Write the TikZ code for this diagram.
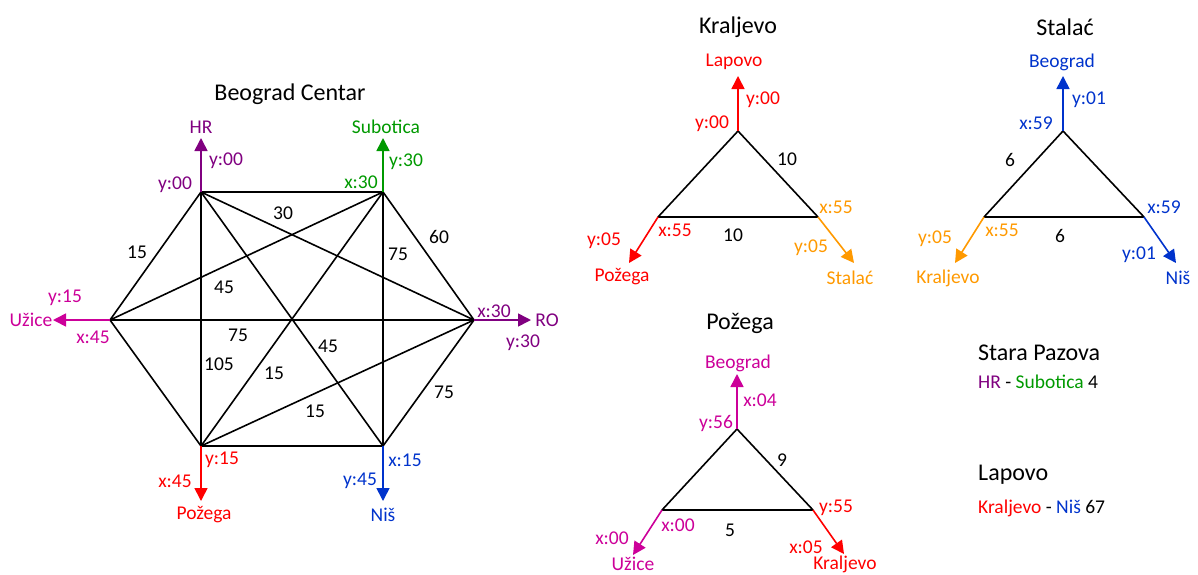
\documentclass[tikz,border=0pt]{standalone}
\usepackage{fontspec}
\setmainfont{Carlito}
\usetikzlibrary{arrows.meta}
\definecolor{cpurple}{HTML}{800080}
\definecolor{cmag}{HTML}{CC0099}
\definecolor{cgreen}{HTML}{009900}
\definecolor{cred}{HTML}{FF0000}
\definecolor{cblue}{HTML}{0033CC}
\definecolor{corange}{HTML}{FF9900}
\begin{document}
\begin{tikzpicture}[x=1pt,y=-1pt,
  edge/.style={line width=1.6pt, black, line join=round},
  exit/.style={line width=1.6pt, -{Triangle[length=13pt,width=13pt]}},
  lbl/.style={font=\fontsize{19.5}{21}\selectfont, inner sep=0pt},
  ttl/.style={font=\fontsize{24}{26}\selectfont, inner sep=0pt},
]
\useasboundingbox (0,0) rectangle (1198,574);

% ---------------- Beograd Centar ----------------
\node[ttl] (tbc) at (290,94) {Beograd Centar};
\coordinate (hr)  at (201,192);
\coordinate (sub) at (383,192);
\coordinate (ro)  at (474,320);
\coordinate (nis) at (383,446);
\coordinate (pož) at (201,446);
\coordinate (uz)  at (110,320);

\draw[edge] (hr) -- (sub) -- (ro) -- (nis) -- (pož) -- (uz) -- cycle;
\draw[edge] (hr) -- (pož);
\draw[edge] (sub) -- (nis);
\draw[edge] (uz) -- (ro);
\draw[edge] (hr) -- (ro);
\draw[edge] (hr) -- (nis);
\draw[edge] (sub) -- (uz);
\draw[edge] (sub) -- (pož);
\draw[edge] (pož) -- (ro);

\node[lbl] (w1) at (283,213) {30};
\node[lbl] (w2) at (137,252) {15};
\node[lbl] (w3) at (439,237) {60};
\node[lbl] (w4) at (398,254) {75};
\node[lbl] (w5) at (224,287) {45};
\node[lbl] (w6) at (238,335) {75};
\node[lbl] (w7) at (219,364) {105};
\node[lbl] (w8) at (328,346) {45};
\node[lbl] (w9) at (274,373) {15};
\node[lbl] (w10) at (315,411) {15};
\node[lbl] (w11) at (444,392) {75};

% exits
\coordinate (hrE)  at (201,138);
\coordinate (subE) at (383,138);
\coordinate (roE)  at (531,320);
\coordinate (uzE)  at (53,320);
\coordinate (požE) at (201,501);
\coordinate (nisE) at (383,501);

\draw[exit, cpurple] (hr) -- (hrE);
\draw[exit, cgreen] (sub) -- (subE);
\draw[exit, cpurple] (ro) -- (roE);
\draw[exit, cmag] (uz) -- (uzE);
\draw[exit, cred] (pož) -- (požE);
\draw[exit, cblue] (nis) -- (nisE);

\node[lbl, cpurple] (nhr) at (201,127) {HR};
\node[lbl, cpurple] (a1) at (226,161) {y:00};
\node[lbl, cpurple] (a2) at (175,185) {y:00};

\node[lbl, cgreen] (nsub) at (386,127) {Subotica};
\node[lbl, cgreen] (a3) at (406,162) {y:30};
\node[lbl, cgreen] (a4) at (361,182) {x:30};

\node[lbl, cpurple] (nro) at (547,320) {RO};
\node[lbl, cpurple] (a5) at (494,311) {x:30};
\node[lbl, cpurple] (a6) at (523,343) {y:30};

\node[lbl, cmag] (nuz) at (31,320) {Užice};
\node[lbl, cmag] (a7) at (65,298) {y:15};
\node[lbl, cmag] (a8) at (93,337) {x:45};

\node[lbl, cred] (npož) at (204,515) {Požega};
\node[lbl, cred] (a9) at (222,460) {y:15};
\node[lbl, cred] (a10) at (175,481) {x:45};

\node[lbl, cblue] (nnis) at (383,515) {Niš};
\node[lbl, cblue] (a11) at (405,460) {x:15};
\node[lbl, cblue] (a12) at (360,481) {y:45};

% ---------------- Kraljevo ----------------
\node[ttl] (tkr) at (738,27) {Kraljevo};
\coordinate (k1) at (738,131);
\coordinate (k2) at (658,217);
\coordinate (k3) at (818,217);
\draw[edge] (k1) -- (k2) -- (k3) -- cycle;
\coordinate (k1E) at (738,76);
\coordinate (k2E) at (629,263);
\coordinate (k3E) at (854,263);
\draw[exit, cred] (k1) -- (k1E);
\draw[exit, cred] (k2) -- (k2E);
\draw[exit, corange] (k3) -- (k3E);
\node[lbl] (kw1) at (787,159) {10};
\node[lbl] (kw2) at (733,235) {10};
\node[lbl, cred] (kn1) at (734,62) {Lapovo};
\node[lbl, cred] (kl1) at (763,100) {y:00};
\node[lbl, cred] (kl2) at (712,124) {y:00};
\node[lbl, cred] (kn2) at (622,277) {Požega};
\node[lbl, cred] (kl3) at (604,241) {y:05};
\node[lbl, cred] (kl4) at (675,230) {x:55};
\node[lbl, corange] (kn3) at (850,278) {Stalać};
\node[lbl, corange] (kl5) at (836,207) {x:55};
\node[lbl, corange] (kl6) at (811,248) {y:05};

% ---------------- Stalać ----------------
\node[ttl] (tst) at (1065,27) {Stalać};
\coordinate (s1) at (1063,131);
\coordinate (s2) at (984,217);
\coordinate (s3) at (1144,217);
\draw[edge] (s1) -- (s2) -- (s3) -- cycle;
\coordinate (s1E) at (1063,76);
\coordinate (s2E) at (955,263);
\coordinate (s3E) at (1176,263);
\draw[exit, cblue] (s1) -- (s1E);
\draw[exit, corange] (s2) -- (s2E);
\draw[exit, cblue] (s3) -- (s3E);
\node[lbl] (sw1) at (1010,160) {6};
\node[lbl] (sw2) at (1060,236) {6};
\node[lbl, cblue] (sn1) at (1062,62) {Beograd};
\node[lbl, cblue] (sl1) at (1089,100) {y:01};
\node[lbl, cblue] (sl2) at (1036,123) {x:59};
\node[lbl, corange] (sn2) at (948,278) {Kraljevo};
\node[lbl, corange] (sl3) at (935,239) {y:05};
\node[lbl, corange] (sl4) at (1002,230) {x:55};
\node[lbl, cblue] (sn3) at (1178,278) {Niš};
\node[lbl, cblue] (sl5) at (1164,207) {x:59};
\node[lbl, cblue] (sl6) at (1139,255) {y:01};

% ---------------- Požega ----------------
\node[ttl] (tpo) at (740,323) {Požega};
\coordinate (p1) at (737,429);
\coordinate (p2) at (662,510);
\coordinate (p3) at (813,510);
\draw[edge] (p1) -- (p2) -- (p3) -- cycle;
\coordinate (p1E) at (737,374);
\coordinate (p2E) at (633,555);
\coordinate (p3E) at (844,554);
\draw[exit, cmag] (p1) -- (p1E);
\draw[exit, cmag] (p2) -- (p2E);
\draw[exit, cred] (p3) -- (p3E);
\node[lbl] (pw1) at (782,460) {9};
\node[lbl] (pw2) at (730,530) {5};
\node[lbl, cmag] (pn1) at (738,363) {Beograd};
\node[lbl, cmag] (pl1) at (760,400) {x:04};
\node[lbl, cmag] (pl2) at (716,423) {y:56};
\node[lbl, cmag, anchor=base] (pn2) at (633,570) {Užice};
\node[lbl, cmag] (pl3) at (612,538) {x:00};
\node[lbl, cmag] (pl4) at (678,525) {x:00};
\node[lbl, cred, anchor=base] (pn3) at (845,569) {Kraljevo};
\node[lbl, cred] (pl5) at (836,508) {y:55};
\node[lbl, cred] (pl6) at (806,547) {x:05};

% ---------------- notes ----------------
\node[ttl, anchor=west] (tsp) at (978,353) {Stara Pazova};
\node[lbl, anchor=west] (nsp) at (978,382) {\textcolor{cpurple}{HR} - \textcolor{cgreen}{Subotica} 4};
\node[ttl, anchor=west] (tla) at (978,475) {Lapovo};
\node[lbl, anchor=west] (nla) at (978,508) {\textcolor{cred}{Kraljevo} - \textcolor{cblue}{Niš} 67};
\end{tikzpicture}
\end{document}
